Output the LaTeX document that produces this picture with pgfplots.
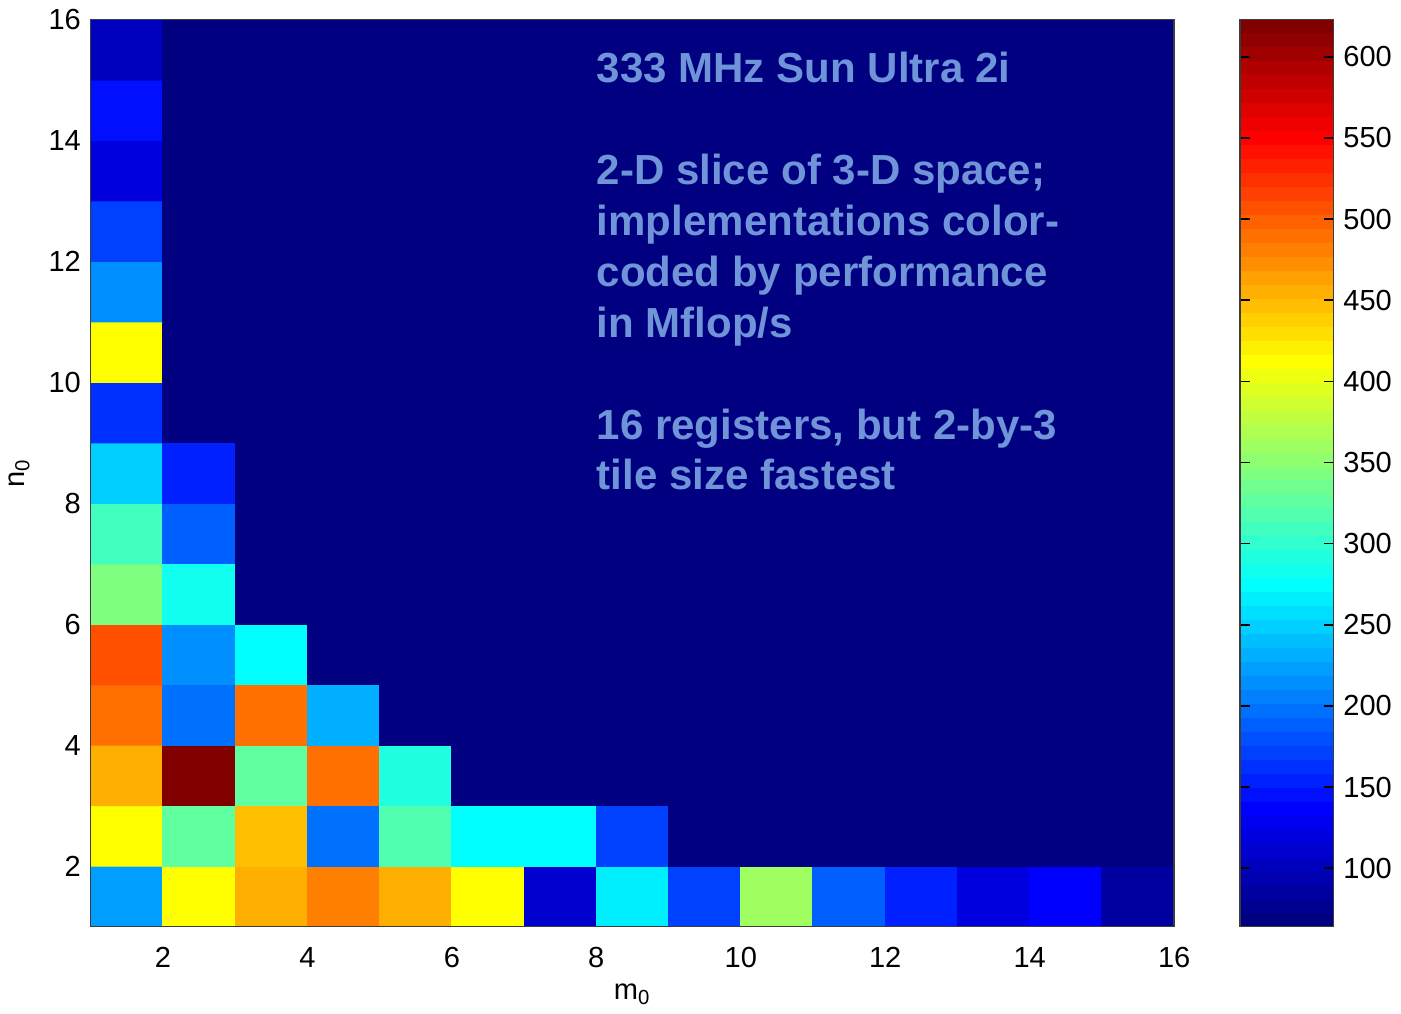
\documentclass[border=0pt]{standalone}
\usepackage{fontspec}
\setmainfont{Liberation Sans}
\usepackage{pgfplots}
\pgfplotsset{compat=1.18}
\definecolor{annot}{RGB}{112,148,216}
\definecolor{axgray}{RGB}{60,60,60}
\pgfplotsset{colormap={jetbase}{rgb255(0cm)=(0,0,128); rgb255(1cm)=(0,0,255); rgb255(3cm)=(0,255,255); rgb255(5cm)=(255,255,0); rgb255(7cm)=(255,0,0); rgb255(8cm)=(128,0,0)}}
\pgfplotsset{colormap={jetd}{samples of colormap=(65 of jetbase)}}
\begin{document}
\begin{tikzpicture}
\begin{axis}[
  scale only axis,
  width=391.8pt, height=328pt,
  xmin=1, xmax=16, ymin=1, ymax=16,
  xtick={2,4,...,16}, ytick={2,4,...,16},
  tick style={draw=none},
  axis line style={axgray, line width=0.6pt},
  /pgf/number format/assume math mode=true,
  tick label style={font=\fontsize{10.5}{12}\selectfont},
  xticklabel style={yshift=-4pt},
  label style={font=\fontsize{10.5}{12}\selectfont},
  xlabel={m\textsubscript{0}},
  ylabel={n\textsubscript{0}},
  xlabel style={yshift=1pt},
  colormap name=jetd,
  colormap access=piecewise constant,
  point meta min=64, point meta max=623,
  colorbar,
  colorbar style={
    at={(parent axis.north east)}, anchor=north west, xshift=15.3pt,
    width=33.8pt,
    ytick={100,150,...,600},
    /pgf/number format/assume math mode=true,
    tick label style={font=\fontsize{10.5}{12}\selectfont},
    tick align=inside,
    major tick length=3.6pt,
    tick style={draw=black, line width=0.6pt},
    axis line style={axgray, line width=0.6pt},
    ytick pos=both,
    yticklabel pos=right,
  },
  axis on top,
]
\addplot[matrix plot*, mesh/cols=15, point meta=explicit] coordinates {
(1.5,1.5)[222] (2.5,1.5)[413] (3.5,1.5)[457] (4.5,1.5)[482] (5.5,1.5)[457] (6.5,1.5)[413] (7.5,1.5)[109] (8.5,1.5)[265] (9.5,1.5)[170] (10.5,1.5)[361] (11.5,1.5)[186] (12.5,1.5)[153] (13.5,1.5)[117] (14.5,1.5)[134] (15.5,1.5)[87]

(1.5,2.5)[413] (2.5,2.5)[328] (3.5,2.5)[449] (4.5,2.5)[197] (5.5,2.5)[317] (6.5,2.5)[274] (7.5,2.5)[274] (8.5,2.5)[170] (9.5,2.5)[64] (10.5,2.5)[64] (11.5,2.5)[64] (12.5,2.5)[64] (13.5,2.5)[64] (14.5,2.5)[64] (15.5,2.5)[64]

(1.5,3.5)[457] (2.5,3.5)[623] (3.5,3.5)[328] (4.5,3.5)[493] (5.5,3.5)[290] (6.5,3.5)[64] (7.5,3.5)[64] (8.5,3.5)[64] (9.5,3.5)[64] (10.5,3.5)[64] (11.5,3.5)[64] (12.5,3.5)[64] (13.5,3.5)[64] (14.5,3.5)[64] (15.5,3.5)[64]

(1.5,4.5)[493] (2.5,4.5)[194] (3.5,4.5)[493] (4.5,4.5)[230] (5.5,4.5)[64] (6.5,4.5)[64] (7.5,4.5)[64] (8.5,4.5)[64] (9.5,4.5)[64] (10.5,4.5)[64] (11.5,4.5)[64] (12.5,4.5)[64] (13.5,4.5)[64] (14.5,4.5)[64] (15.5,4.5)[64]

(1.5,5.5)[510] (2.5,5.5)[211] (3.5,5.5)[274] (4.5,5.5)[64] (5.5,5.5)[64] (6.5,5.5)[64] (7.5,5.5)[64] (8.5,5.5)[64] (9.5,5.5)[64] (10.5,5.5)[64] (11.5,5.5)[64] (12.5,5.5)[64] (13.5,5.5)[64] (14.5,5.5)[64] (15.5,5.5)[64]

(1.5,6.5)[344] (2.5,6.5)[285] (3.5,6.5)[64] (4.5,6.5)[64] (5.5,6.5)[64] (6.5,6.5)[64] (7.5,6.5)[64] (8.5,6.5)[64] (9.5,6.5)[64] (10.5,6.5)[64] (11.5,6.5)[64] (12.5,6.5)[64] (13.5,6.5)[64] (14.5,6.5)[64] (15.5,6.5)[64]

(1.5,7.5)[312] (2.5,7.5)[189] (3.5,7.5)[64] (4.5,7.5)[64] (5.5,7.5)[64] (6.5,7.5)[64] (7.5,7.5)[64] (8.5,7.5)[64] (9.5,7.5)[64] (10.5,7.5)[64] (11.5,7.5)[64] (12.5,7.5)[64] (13.5,7.5)[64] (14.5,7.5)[64] (15.5,7.5)[64]

(1.5,8.5)[249] (2.5,8.5)[156] (3.5,8.5)[64] (4.5,8.5)[64] (5.5,8.5)[64] (6.5,8.5)[64] (7.5,8.5)[64] (8.5,8.5)[64] (9.5,8.5)[64] (10.5,8.5)[64] (11.5,8.5)[64] (12.5,8.5)[64] (13.5,8.5)[64] (14.5,8.5)[64] (15.5,8.5)[64]

(1.5,9.5)[161] (2.5,9.5)[64] (3.5,9.5)[64] (4.5,9.5)[64] (5.5,9.5)[64] (6.5,9.5)[64] (7.5,9.5)[64] (8.5,9.5)[64] (9.5,9.5)[64] (10.5,9.5)[64] (11.5,9.5)[64] (12.5,9.5)[64] (13.5,9.5)[64] (14.5,9.5)[64] (15.5,9.5)[64]

(1.5,10.5)[416] (2.5,10.5)[64] (3.5,10.5)[64] (4.5,10.5)[64] (5.5,10.5)[64] (6.5,10.5)[64] (7.5,10.5)[64] (8.5,10.5)[64] (9.5,10.5)[64] (10.5,10.5)[64] (11.5,10.5)[64] (12.5,10.5)[64] (13.5,10.5)[64] (14.5,10.5)[64] (15.5,10.5)[64]

(1.5,11.5)[211] (2.5,11.5)[64] (3.5,11.5)[64] (4.5,11.5)[64] (5.5,11.5)[64] (6.5,11.5)[64] (7.5,11.5)[64] (8.5,11.5)[64] (9.5,11.5)[64] (10.5,11.5)[64] (11.5,11.5)[64] (12.5,11.5)[64] (13.5,11.5)[64] (14.5,11.5)[64] (15.5,11.5)[64]

(1.5,12.5)[172] (2.5,12.5)[64] (3.5,12.5)[64] (4.5,12.5)[64] (5.5,12.5)[64] (6.5,12.5)[64] (7.5,12.5)[64] (8.5,12.5)[64] (9.5,12.5)[64] (10.5,12.5)[64] (11.5,12.5)[64] (12.5,12.5)[64] (13.5,12.5)[64] (14.5,12.5)[64] (15.5,12.5)[64]

(1.5,13.5)[120] (2.5,13.5)[64] (3.5,13.5)[64] (4.5,13.5)[64] (5.5,13.5)[64] (6.5,13.5)[64] (7.5,13.5)[64] (8.5,13.5)[64] (9.5,13.5)[64] (10.5,13.5)[64] (11.5,13.5)[64] (12.5,13.5)[64] (13.5,13.5)[64] (14.5,13.5)[64] (15.5,13.5)[64]

(1.5,14.5)[145] (2.5,14.5)[64] (3.5,14.5)[64] (4.5,14.5)[64] (5.5,14.5)[64] (6.5,14.5)[64] (7.5,14.5)[64] (8.5,14.5)[64] (9.5,14.5)[64] (10.5,14.5)[64] (11.5,14.5)[64] (12.5,14.5)[64] (13.5,14.5)[64] (14.5,14.5)[64] (15.5,14.5)[64]

(1.5,15.5)[104] (2.5,15.5)[64] (3.5,15.5)[64] (4.5,15.5)[64] (5.5,15.5)[64] (6.5,15.5)[64] (7.5,15.5)[64] (8.5,15.5)[64] (9.5,15.5)[64] (10.5,15.5)[64] (11.5,15.5)[64] (12.5,15.5)[64] (13.5,15.5)[64] (14.5,15.5)[64] (15.5,15.5)[64]
};
\begin{scope}[every node/.style={anchor=base west, inner sep=0pt, text=annot, font=\fontsize{15.2}{18}\selectfont\bfseries}]
\node at (axis cs:8,14.962) {333 MHz Sun Ultra 2i};
\node at (axis cs:8,13.264) {2-D slice of 3-D space;};
\node at (axis cs:8,12.423) {implementations color-};
\node at (axis cs:8,11.583) {coded by performance};
\node at (axis cs:8,10.742) {in Mflop/s};
\node at (axis cs:8,9.061) {16 registers, but 2-by-3};
\node at (axis cs:8,8.220) {tile size fastest};
\end{scope}
\end{axis}
\end{tikzpicture}
\end{document}
